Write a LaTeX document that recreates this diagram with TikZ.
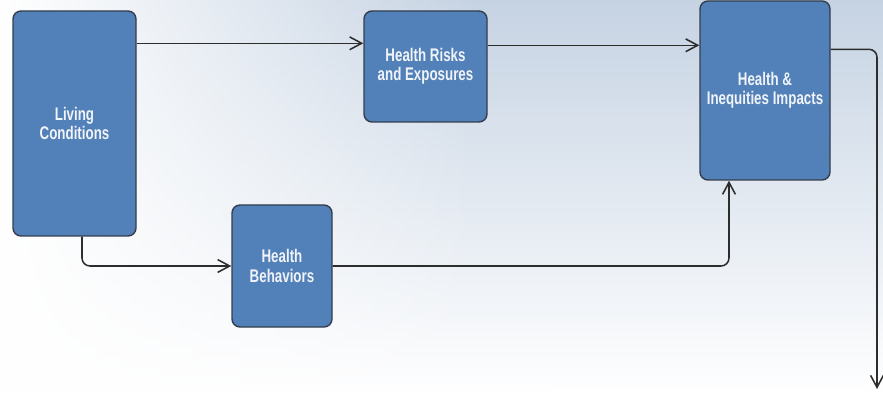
\documentclass[tikz,border=0pt]{standalone}
\usepackage{fontspec}
\newfontfamily\boxfont[FakeStretch=0.73]{Liberation Sans}
\usepackage{tikz}
\usetikzlibrary{calc,positioning,arrows.meta,fadings}
\definecolor{boxblue}{RGB}{82,128,184}
\definecolor{boxline}{RGB}{52,62,78}
\definecolor{bgblue}{RGB}{198,211,227}
\definecolor{linkgray}{RGB}{45,45,45}
\definecolor{boxtext}{RGB}{240,243,247}
\tikzset{
  factor/.style={rectangle,rounded corners=0.2cm,fill=boxblue,draw=boxline,line width=1.0,
    text=boxtext,align=center,font=\boxfont\bfseries\fontsize{13}{13.8}\selectfont},
  link/.style={draw=linkgray,line width=1.1,rounded corners=0.2cm,
    -{Straight Barb[length=3mm,width=3.2mm]}}
}

\begin{document}
\begin{tikzpicture}
% background
\useasboundingbox (0,0) rectangle (22.075,9.925);
\shade[top color=bgblue,bottom color=white] (0,0) rectangle (22.075,9.925);
\fill[white,path fading=east] (0,0) rectangle (12,9.925);
\fill[white] (13.725,0) rectangle (21.75,0.2);
% boxes
\node[factor,minimum width=3.075cm,minimum height=5.625cm] (living) at (1.8625,6.8375) {Living\\Conditions};
\node[factor,minimum width=3.075cm,minimum height=2.775cm] (risks) at (10.6375,8.2625) {Health Risks\\and Exposures};
\node[factor,minimum width=3.25cm,minimum height=4.475cm] (impacts) at (19.125,7.6625) {Health \&\\Inequities Impacts};
\node[factor,minimum width=2.5cm,minimum height=3.05cm] (behav) at (7.05,3.275) {Health\\Behaviors};
% -> risks -> impacts ->
\coordinate (lr) at ([yshift=-0.825cm]living.north east);
\draw[link] (lr) -- (lr -| risks.west);
\coordinate (rr) at ([yshift=-0.875cm]risks.north east);
\draw[link] (rr) -- (rr -| impacts.west);
\coordinate (ir) at ([yshift=-1.225cm]impacts.north east);
\coordinate (out) at (21.925,0.2);
\draw[link] (ir) -| (out);
% -> behaviors -> impacts
\draw[link] ([xshift=0.1875cm]living.south) |- (behav.west);
\draw[link] (behav.east) -| ([xshift=-0.9cm]impacts.south);
\end{tikzpicture}
\end{document}
